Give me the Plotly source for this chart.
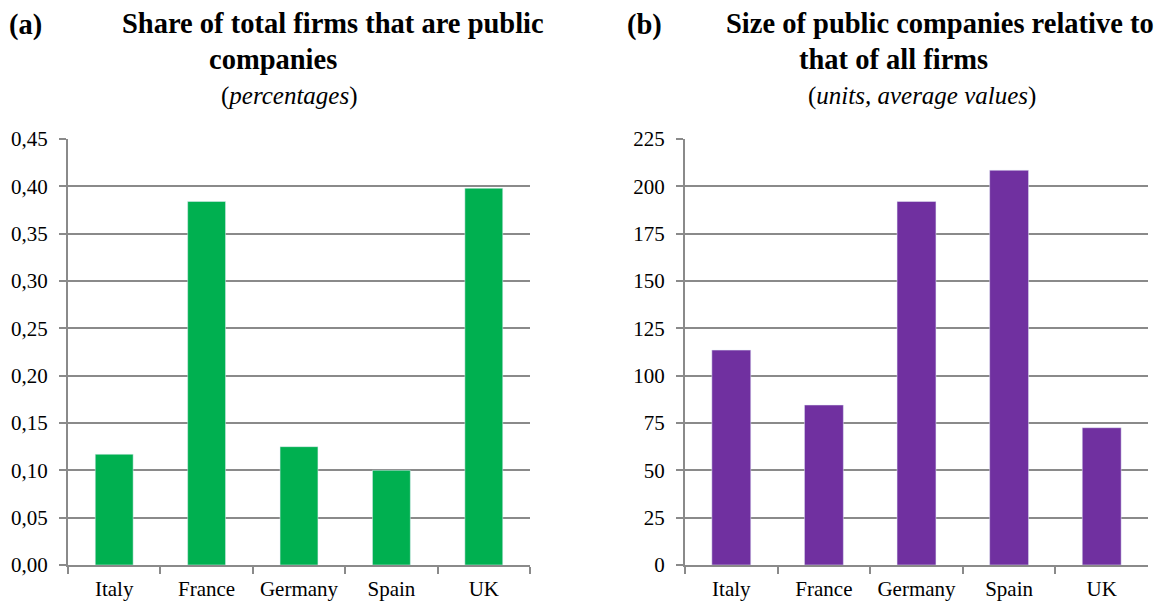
import plotly.graph_objects as go
from plotly.subplots import make_subplots

countries = ["Italy", "France", "Germany", "Spain", "UK"]
share_public = [0.117, 0.384, 0.125, 0.100, 0.398]
relative_size = [113.5, 84.5, 192.0, 208.5, 72.5]

share_ticks = [0, 0.05, 0.10, 0.15, 0.20, 0.25, 0.30, 0.35, 0.40, 0.45]
size_ticks = [0, 25, 50, 75, 100, 125, 150, 175, 200, 225]

W, H = 1175, 607
OFF = 8  # default body margin of the html page
FONT = "Liberation Serif, Times New Roman, serif"
GRID = "#8a8a8a"

fig = make_subplots(rows=1, cols=2)

fig.add_trace(go.Bar(x=countries, y=share_public, marker_color="#00B050",
                     width=0.41, showlegend=False), row=1, col=1)
fig.add_trace(go.Bar(x=countries, y=relative_size, marker_color="#7030A0",
                     width=0.42, showlegend=False), row=1, col=2)

# screen pixel positions -> paper fractions
def px(x):
    return (x - OFF) / W

def py(y):
    return 1 - (y - OFF) / H

fig.update_layout(
    width=W, height=H,
    margin=dict(l=0, r=0, t=0, b=0, autoexpand=False),
    plot_bgcolor="white", paper_bgcolor="white",
    separators=",.",
    font=dict(family=FONT, size=21, color="black"),
)

fig.update_xaxes(showline=True, linecolor=GRID, linewidth=2, automargin=False,
                 ticks="outside", tickson="boundaries", ticklen=7,
                 tickcolor=GRID, tickwidth=2, showgrid=False,
                 tickfont=dict(size=21), ticklabelstandoff=4)
fig.update_yaxes(showline=True, linecolor=GRID, linewidth=2, automargin=False,
                 ticks="outside", ticklen=7, tickcolor=GRID, tickwidth=2,
                 showgrid=True, gridcolor=GRID, gridwidth=2, zeroline=False,
                 tickfont=dict(size=21), ticklabelstandoff=7)

fig.update_layout(
    xaxis=dict(domain=[px(68), px(530)]),
    xaxis2=dict(domain=[px(685), px(1148)]),
    yaxis=dict(domain=[py(565), py(139)], range=[0, 0.45],
               tickvals=share_ticks, tickformat=".2f"),
    yaxis2=dict(domain=[py(565), py(139)], range=[0, 225],
                tickvals=size_ticks),
)

titles = [
    ("<b>(a)</b>", 25, 25, 28.5),
    ("<b>Share of total firms that are public</b>", 333, 23, 28.5),
    ("<b>companies</b>", 273, 59, 28.5),
    ("(<i>percentages</i>)", 289, 96, 25),
    ("<b>(b)</b>", 644, 25, 28.5),
    ("<b>Size of public companies relative to</b>", 940, 23, 28.5),
    ("<b>that of all firms</b>", 893, 59, 28.5),
    ("(<i>units, average values</i>)", 922, 96, 25),
]
for text, x, y, size in titles:
    fig.add_annotation(text=text, x=px(x), y=py(y), xref="paper", yref="paper",
                       xanchor="center", yanchor="middle", showarrow=False,
                       font=dict(family=FONT, size=size, color="black"))

fig.write_html("out.html")
